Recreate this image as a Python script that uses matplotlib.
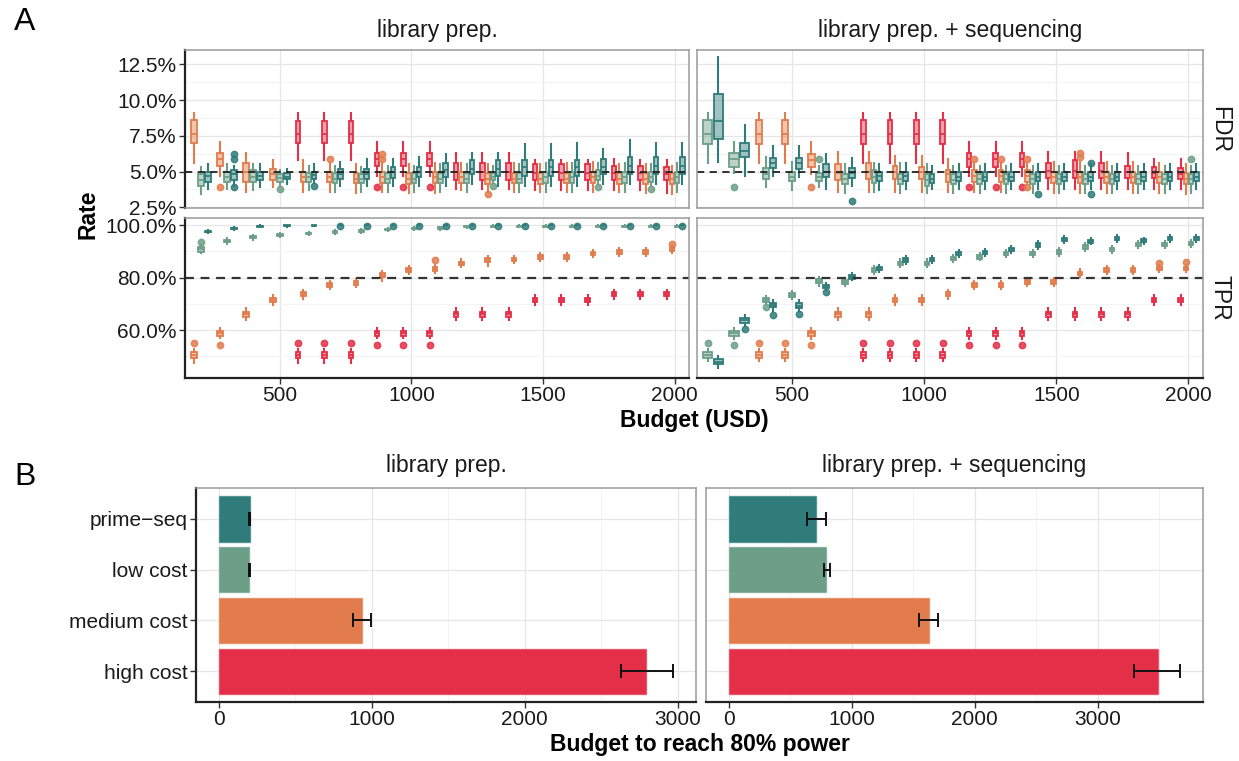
import matplotlib
matplotlib.use("Agg")
import matplotlib.pyplot as plt
from matplotlib.colors import to_rgba
from matplotlib.ticker import FixedLocator, FuncFormatter

plt.rcParams["font.family"] = ["Liberation Sans", "DejaVu Sans"]

W, H = 1239, 761

METHODS = ["high cost", "medium cost", "low cost", "prime-seq"]
COLORS = {"high cost": "#E42F48", "medium cost": "#E27C4D",
          "low cost": "#6D9F88", "prime-seq": "#2F7C7A"}

# ---- Panel A: boxplot summaries (budget, whisker low, q1, median, q3, whisker high, outliers) ----
# library prep., FDR (%)
LP_FDR_HIGH = [
    (600, 5.8, 7.0, 7.6, 8.5, 9.1, []), (700, 5.8, 7.0, 7.6, 8.5, 9.1, []),
    (800, 5.8, 7.0, 7.6, 8.5, 9.1, []), (900, 4.7, 5.4, 5.9, 6.3, 7.1, [3.9]),
    (1000, 4.7, 5.4, 5.9, 6.3, 7.1, [3.9]), (1100, 4.7, 5.4, 5.9, 6.3, 7.1, [3.9]),
    (1200, 3.8, 4.4, 5.0, 5.6, 6.3, []), (1300, 3.8, 4.4, 5.0, 5.6, 6.3, []),
    (1400, 3.8, 4.4, 5.0, 5.6, 6.3, []), (1500, 3.7, 4.4, 4.9, 5.5, 5.8, []),
    (1600, 3.7, 4.4, 4.9, 5.5, 5.8, []), (1700, 3.7, 4.4, 4.9, 5.5, 5.8, []),
    (1800, 3.7, 4.4, 4.9, 5.4, 5.9, []), (1900, 3.7, 4.4, 4.9, 5.4, 5.8, []),
    (2000, 3.5, 4.4, 4.8, 5.3, 5.8, []),
]
LP_FDR_MED = [
    (200, 5.6, 7.0, 7.6, 8.6, 9.1, []), (300, 4.7, 5.4, 5.9, 6.3, 7.1, [3.9]),
    (400, 3.6, 4.3, 5.0, 5.6, 6.3, []), (500, 3.9, 4.4, 4.8, 5.2, 5.8, []),
    (600, 3.6, 4.3, 4.6, 5.0, 5.8, []), (700, 3.6, 4.3, 4.6, 5.0, 5.6, [5.9]),
    (800, 3.5, 4.2, 4.5, 4.9, 5.5, []), (900, 3.6, 4.2, 4.6, 5.0, 5.6, [6.2, 5.9]),
    (1000, 3.5, 4.1, 4.5, 4.9, 5.5, []), (1100, 3.5, 4.2, 4.6, 5.0, 5.6, []),
    (1200, 3.7, 4.2, 4.6, 5.0, 5.6, []), (1300, 3.6, 4.1, 4.5, 4.9, 5.5, [3.45]),
    (1400, 3.6, 4.2, 4.5, 4.9, 5.6, []), (1500, 3.6, 4.1, 4.5, 4.9, 5.5, []),
    (1600, 3.6, 4.2, 4.5, 4.9, 5.6, []), (1700, 3.6, 4.2, 4.6, 5.0, 5.7, []),
    (1800, 3.6, 4.1, 4.5, 4.9, 5.5, []), (1900, 3.5, 4.1, 4.5, 4.9, 5.5, []),
    (2000, 3.4, 4.1, 4.5, 4.9, 5.4, []),
]
LP_FDR_LOW = [
    (200, 3.4, 4.0, 4.4, 4.8, 5.3, []), (300, 3.8, 4.3, 4.65, 5.0, 5.5, []),
    (400, 3.7, 4.3, 4.65, 5.1, 5.5, []), (500, 4.0, 4.3, 4.55, 4.8, 5.1, [3.75]),
    (600, 3.7, 4.3, 4.6, 4.9, 5.4, []), (700, 3.6, 4.2, 4.5, 4.9, 5.4, []),
    (800, 3.6, 4.2, 4.5, 4.8, 5.3, []), (900, 3.6, 4.2, 4.5, 4.9, 5.4, []),
    (1000, 3.6, 4.2, 4.5, 4.9, 5.4, []), (1100, 3.6, 4.2, 4.5, 4.9, 5.5, []),
    (1200, 3.6, 4.2, 4.5, 4.9, 5.5, []), (1300, 4.2, 4.4, 4.6, 4.9, 5.4, [4.0]),
    (1400, 3.6, 4.2, 4.5, 4.9, 5.5, []), (1500, 3.6, 4.2, 4.6, 5.0, 5.6, []),
    (1600, 3.6, 4.2, 4.6, 5.0, 5.6, []), (1700, 4.1, 4.4, 4.7, 5.1, 5.6, [3.9]),
    (1800, 3.6, 4.2, 4.6, 5.0, 5.6, []), (1900, 4.0, 4.3, 4.6, 5.0, 5.5, [3.75]),
    (2000, 3.6, 4.2, 4.6, 5.0, 5.6, []),
]
LP_FDR_PRIME = [
    (200, 3.8, 4.3, 4.7, 5.0, 5.5, []), (300, 4.0, 4.4, 4.8, 5.1, 5.4, [6.2, 5.9, 3.9]),
    (400, 3.9, 4.4, 4.7, 5.0, 5.5, []), (500, 4.1, 4.45, 4.6, 4.9, 5.2, []),
    (600, 4.2, 4.5, 4.75, 5.0, 5.5, [3.98]), (700, 4.0, 4.45, 4.8, 5.15, 5.7, []),
    (800, 4.0, 4.5, 4.85, 5.2, 5.9, []), (900, 4.0, 4.55, 4.95, 5.35, 5.9, []),
    (1000, 4.0, 4.65, 5.0, 5.35, 6.05, []), (1100, 4.0, 4.65, 5.1, 5.6, 6.2, []),
    (1200, 4.1, 4.8, 5.2, 5.8, 6.3, []), (1300, 4.0, 4.7, 5.2, 5.8, 6.3, []),
    (1400, 4.0, 4.7, 5.3, 5.8, 6.9, []), (1500, 4.0, 4.7, 5.3, 5.8, 6.9, []),
    (1600, 4.0, 4.7, 5.3, 5.8, 7.0, []), (1700, 4.1, 4.8, 5.3, 5.9, 6.6, []),
    (1800, 4.1, 4.8, 5.4, 6.05, 7.2, []), (1900, 4.1, 4.8, 5.4, 6.05, 7.0, []),
    (2000, 4.1, 4.8, 5.4, 6.05, 7.0, []),
]

# library prep. + sequencing, FDR (%)
LPS_FDR_HIGH = [
    (800, 5.6, 6.9, 7.6, 8.6, 9.1, []), (900, 5.6, 6.9, 7.6, 8.6, 9.1, []),
    (1000, 5.6, 6.9, 7.6, 8.6, 9.1, []), (1100, 5.6, 6.9, 7.6, 8.6, 9.1, []),
    (1200, 4.7, 5.35, 5.9, 6.3, 7.1, [3.9]), (1300, 4.7, 5.35, 5.9, 6.3, 7.1, [3.9]),
    (1400, 4.7, 5.35, 5.9, 6.3, 7.1, [3.9]), (1500, 3.75, 4.55, 5.05, 5.6, 6.35, []),
    (1600, 3.75, 4.55, 5.05, 5.8, 6.35, []), (1700, 3.75, 4.55, 5.05, 5.6, 6.35, []),
    (1800, 3.75, 4.55, 5.0, 5.4, 6.3, []), (1900, 3.8, 4.55, 4.9, 5.35, 5.9, []),
    (2000, 3.8, 4.45, 4.85, 5.25, 5.9, []),
]
LPS_FDR_MED = [
    (400, 5.6, 6.9, 7.6, 8.6, 9.1, []), (500, 5.6, 6.9, 7.6, 8.6, 9.1, []),
    (600, 4.8, 5.35, 5.8, 6.25, 7.1, [3.9]), (700, 3.6, 4.4, 4.9, 5.5, 6.35, []),
    (800, 3.6, 4.45, 5.0, 5.6, 6.35, []), (900, 3.6, 4.45, 4.95, 5.4, 6.1, []),
    (1000, 3.6, 4.45, 4.95, 5.3, 6.1, []), (1100, 3.6, 4.3, 4.8, 5.1, 5.9, []),
    (1200, 3.6, 4.3, 4.7, 5.1, 5.6, [5.9]), (1300, 3.6, 4.3, 4.7, 5.1, 5.6, [5.9]),
    (1400, 4.1, 4.3, 4.7, 5.1, 5.6, [5.9, 3.95]), (1500, 3.5, 4.2, 4.6, 5.0, 5.7, []),
    (1600, 3.5, 4.2, 4.6, 5.0, 5.7, [6.3, 6.0]), (1700, 3.5, 4.2, 4.6, 5.0, 5.7, []),
    (1800, 3.5, 4.2, 4.6, 5.0, 5.7, []), (1900, 3.5, 4.2, 4.6, 5.0, 5.6, []),
    (2000, 3.4, 4.1, 4.5, 4.9, 5.5, []),
]
LPS_FDR_LOW = [
    (200, 5.6, 6.9, 7.6, 8.6, 9.1, []), (300, 4.9, 5.35, 5.85, 6.3, 7.1, [3.9]),
    (400, 3.9, 4.5, 4.85, 5.25, 6.05, []), (500, 3.7, 4.35, 4.65, 4.95, 5.7, []),
    (600, 3.9, 4.35, 4.6, 4.9, 5.4, [5.9]), (700, 3.5, 4.1, 4.45, 4.8, 5.5, []),
    (800, 3.6, 4.2, 4.6, 5.1, 5.6, []), (900, 3.5, 4.1, 4.45, 4.8, 5.6, []),
    (1000, 3.5, 4.0, 4.4, 4.8, 5.5, []), (1100, 3.5, 4.1, 4.4, 4.8, 5.4, []),
    (1200, 3.5, 4.1, 4.45, 4.8, 5.4, []), (1300, 3.5, 4.1, 4.45, 4.8, 5.4, []),
    (1400, 3.5, 4.1, 4.45, 4.8, 5.4, []), (1500, 3.5, 4.1, 4.45, 4.8, 5.4, []),
    (1600, 3.5, 4.1, 4.45, 4.8, 5.4, []), (1700, 3.5, 4.1, 4.45, 4.8, 5.4, []),
    (1800, 3.5, 4.1, 4.45, 4.8, 5.4, []), (1900, 3.5, 4.1, 4.45, 4.8, 5.4, []),
    (2000, 3.5, 4.1, 4.45, 4.8, 5.4, [5.9]),
]
LPS_FDR_PRIME = [
    (200, 5.7, 7.3, 8.5, 10.4, 13.0, []), (300, 4.7, 6.05, 6.45, 7.0, 8.25, []),
    (400, 4.7, 5.25, 5.6, 5.95, 6.8, []), (500, 4.6, 5.2, 5.6, 5.95, 6.8, []),
    (600, 3.75, 4.65, 5.0, 5.5, 6.2, []), (700, 4.0, 4.55, 4.9, 5.25, 5.95, [2.95]),
    (800, 3.7, 4.35, 4.7, 5.0, 5.5, []), (900, 3.8, 4.35, 4.7, 5.0, 5.6, []),
    (1000, 3.8, 4.2, 4.5, 4.8, 5.4, []), (1100, 3.75, 4.35, 4.65, 5.0, 5.5, []),
    (1200, 3.75, 4.35, 4.65, 5.0, 5.5, []), (1300, 3.75, 4.35, 4.65, 5.0, 5.5, []),
    (1400, 3.75, 4.35, 4.65, 5.0, 5.5, [3.4]), (1500, 3.75, 4.35, 4.65, 5.0, 5.5, []),
    (1600, 3.75, 4.35, 4.65, 5.0, 5.5, [5.6, 3.45]), (1700, 3.75, 4.35, 4.65, 5.0, 5.5, []),
    (1800, 3.75, 4.35, 4.65, 5.0, 5.5, []), (1900, 3.75, 4.35, 4.65, 5.0, 5.5, []),
    (2000, 3.75, 4.35, 4.65, 5.0, 5.5, []),
]

# library prep., TPR (%)
LP_TPR_HIGH = [
    (600, 47.4, 49.3, 50.5, 51.7, 52.8, [55.2]), (700, 47.4, 49.3, 50.5, 51.7, 52.8, [55.2]),
    (800, 47.4, 49.3, 50.5, 51.7, 52.8, [55.2]), (900, 56.8, 57.7, 58.7, 59.7, 60.6, [54.3]),
    (1000, 56.8, 57.7, 58.7, 59.7, 60.6, [54.3]), (1100, 56.8, 57.7, 58.7, 59.7, 60.6, [54.3]),
    (1200, 63.8, 64.9, 66.0, 67.0, 68.4, []), (1300, 63.8, 64.9, 66.0, 67.0, 68.4, []),
    (1400, 63.8, 64.9, 66.0, 67.0, 68.4, []), (1500, 69.6, 70.5, 71.4, 72.3, 73.3, []),
    (1600, 69.6, 70.5, 71.4, 72.3, 73.3, []), (1700, 69.6, 70.5, 71.4, 72.3, 73.3, []),
    (1800, 72.0, 72.8, 73.6, 74.4, 75.4, []), (1900, 72.0, 72.8, 73.6, 74.4, 75.4, []),
    (2000, 72.0, 72.8, 73.6, 74.4, 75.4, []),
]
LP_TPR_MED = [
    (200, 47.4, 49.3, 50.5, 51.7, 52.8, [55.2]), (300, 56.8, 57.7, 58.7, 59.7, 60.6, [54.3]),
    (400, 63.8, 64.9, 66.0, 67.0, 68.4, []), (500, 69.6, 70.5, 71.4, 72.3, 73.3, []),
    (600, 72.0, 72.8, 73.6, 74.4, 75.4, []), (700, 75.6, 76.4, 77.1, 77.8, 78.8, []),
    (800, 76.3, 77.1, 77.8, 78.5, 79.4, []), (900, 78.8, 80.2, 81.0, 81.8, 82.6, []),
    (1000, 81.4, 82.2, 82.9, 83.6, 84.4, []), (1100, 81.8, 82.6, 83.3, 84.0, 84.8, [86.5]),
    (1200, 83.9, 84.7, 85.4, 86.1, 86.9, []), (1300, 84.5, 86.0, 86.7, 87.4, 88.2, []),
    (1400, 85.4, 86.2, 86.9, 87.6, 88.4, []), (1500, 86.4, 87.2, 87.9, 88.6, 89.4, []),
    (1600, 86.4, 87.2, 87.9, 88.6, 89.4, []), (1700, 87.8, 88.5, 89.2, 89.9, 90.6, []),
    (1800, 88.4, 89.1, 89.8, 90.5, 91.2, []), (1900, 88.4, 89.1, 89.8, 90.5, 91.2, []),
    (2000, 89.4, 90.2, 90.9, 91.6, 92.0, [92.7]),
]
LP_TPR_LOW = [
    (200, 89.3, 89.9, 90.8, 91.7, 92.5, [93.4]), (300, 92.8, 93.4, 93.9, 94.4, 95.0, []),
    (400, 94.4, 94.9, 95.3, 95.7, 96.2, []), (500, 95.4, 95.9, 96.2, 96.5, 97.0, []),
    (600, 96.1, 96.5, 96.8, 97.1, 97.5, []), (700, 96.6, 97.0, 97.3, 97.6, 98.0, []),
    (800, 97.1, 97.5, 97.8, 98.1, 98.5, []), (900, 97.7, 98.0, 98.3, 98.6, 98.9, []),
    (1000, 98.1, 98.4, 98.7, 99.0, 99.3, []), (1100, 98.2, 98.5, 98.8, 99.1, 99.4, []),
    (1200, 98.9, 99.1, 99.3, 99.5, 99.7, []), (1300, 99.2, 99.4, 99.6, 99.8, 100.0, []),
    (1400, 99.2, 99.4, 99.6, 99.8, 100.0, []), (1500, 99.2, 99.4, 99.6, 99.8, 100.0, []),
    (1600, 99.2, 99.4, 99.6, 99.8, 100.0, []), (1700, 99.2, 99.4, 99.6, 99.8, 100.0, []),
    (1800, 99.2, 99.4, 99.6, 99.8, 100.0, []), (1900, 99.2, 99.4, 99.6, 99.8, 100.0, []),
    (2000, 99.2, 99.4, 99.6, 99.8, 100.0, []),
]
LP_TPR_PRIME = [
    (200, 96.9, 97.2, 97.5, 97.8, 98.1, []), (300, 98.2, 98.5, 98.7, 98.9, 99.2, []),
    (400, 99.2, 99.4, 99.6, 99.8, 100.0, []), (500, 99.3, 99.5, 99.7, 99.85, 100.0, []),
    (600, 99.5, 99.7, 99.8, 99.9, 100.0, []), (700, 100.0, 100.0, 100.0, 100.0, 100.0, [99.5]),
    (800, 100.0, 100.0, 100.0, 100.0, 100.0, [99.5]), (900, 100.0, 100.0, 100.0, 100.0, 100.0, [99.5]),
    (1000, 100.0, 100.0, 100.0, 100.0, 100.0, [99.6]), (1100, 100.0, 100.0, 100.0, 100.0, 100.0, [99.5]),
    (1200, 100.0, 100.0, 100.0, 100.0, 100.0, [99.6]), (1300, 100.0, 100.0, 100.0, 100.0, 100.0, [99.5]),
    (1400, 100.0, 100.0, 100.0, 100.0, 100.0, [99.6]), (1500, 100.0, 100.0, 100.0, 100.0, 100.0, [99.6]),
    (1600, 100.0, 100.0, 100.0, 100.0, 100.0, [99.5]), (1700, 100.0, 100.0, 100.0, 100.0, 100.0, [99.6]),
    (1800, 100.0, 100.0, 100.0, 100.0, 100.0, [99.6]), (1900, 100.0, 100.0, 100.0, 100.0, 100.0, [99.6]),
    (2000, 100.0, 100.0, 100.0, 100.0, 100.0, [99.6]),
]

# library prep. + sequencing, TPR (%)
LPS_TPR_HIGH = [
    (800, 48.3, 49.5, 50.5, 51.5, 52.8, [55.2]), (900, 48.3, 49.5, 50.5, 51.5, 52.8, [55.2]),
    (1000, 48.3, 49.5, 50.5, 51.5, 52.8, [55.2]), (1100, 48.3, 49.5, 50.5, 51.5, 52.8, [55.2]),
    (1200, 56.6, 57.8, 58.7, 59.6, 60.8, [54.3]), (1300, 56.6, 57.8, 58.7, 59.6, 60.8, [54.3]),
    (1400, 56.6, 57.8, 58.7, 59.6, 60.8, [54.3]), (1500, 63.8, 64.9, 66.0, 67.0, 68.4, []),
    (1600, 63.8, 64.9, 66.0, 67.0, 68.4, []), (1700, 63.8, 64.9, 66.0, 67.0, 68.4, []),
    (1800, 63.8, 64.9, 66.0, 67.0, 68.4, []), (1900, 69.6, 70.5, 71.4, 72.3, 73.3, []),
    (2000, 69.6, 70.5, 71.4, 72.3, 73.3, []),
]
LPS_TPR_MED = [
    (400, 48.3, 49.5, 50.5, 51.5, 52.8, [55.2]), (500, 48.3, 49.5, 50.5, 51.5, 52.8, [55.2]),
    (600, 56.6, 57.8, 58.7, 59.6, 60.8, [54.3]), (700, 63.8, 64.9, 66.0, 67.0, 68.4, []),
    (800, 63.8, 64.9, 66.0, 67.0, 68.4, []), (900, 69.6, 70.5, 71.4, 72.3, 73.3, []),
    (1000, 69.6, 70.5, 71.4, 72.3, 73.3, []), (1100, 72.0, 72.8, 73.6, 74.4, 75.4, []),
    (1200, 75.6, 76.4, 77.1, 77.8, 78.8, []), (1300, 75.6, 76.4, 77.1, 77.8, 78.8, []),
    (1400, 76.9, 77.7, 78.4, 79.1, 80.0, []), (1500, 76.9, 77.7, 78.4, 79.1, 80.0, []),
    (1600, 80.1, 80.9, 81.6, 82.3, 83.1, []), (1700, 81.4, 82.2, 82.9, 83.6, 84.4, []),
    (1800, 81.4, 82.2, 82.9, 83.6, 84.4, []), (1900, 82.0, 82.8, 83.5, 84.2, 84.9, [85.5]),
    (2000, 82.0, 82.8, 83.5, 84.2, 84.9, [86.0]),
]
LPS_TPR_LOW = [
    (200, 48.3, 49.5, 50.5, 51.5, 52.8, [55.2]), (300, 56.6, 57.8, 58.7, 59.6, 60.8, [54.3]),
    (400, 69.8, 70.6, 71.4, 72.2, 73.0, [68.9]), (500, 71.8, 72.6, 73.4, 74.2, 75.0, []),
    (600, 76.9, 77.9, 78.7, 79.4, 80.2, []), (700, 76.8, 77.6, 78.4, 79.2, 80.0, []),
    (800, 81.3, 82.1, 82.9, 83.6, 84.4, []), (900, 83.9, 84.7, 85.4, 86.1, 86.9, []),
    (1000, 83.9, 84.7, 85.4, 86.1, 86.9, []), (1100, 85.9, 86.6, 87.3, 88.0, 88.7, []),
    (1200, 86.5, 87.2, 87.9, 88.6, 89.3, []), (1300, 87.8, 88.5, 89.2, 89.9, 90.6, []),
    (1400, 87.8, 88.5, 89.2, 89.9, 90.6, []), (1500, 88.4, 89.1, 89.8, 90.5, 91.2, []),
    (1600, 90.3, 91.0, 91.7, 92.4, 93.1, []), (1700, 89.3, 90.0, 90.7, 91.4, 92.1, []),
    (1800, 91.2, 91.9, 92.6, 93.3, 94.0, []), (1900, 91.2, 91.9, 92.6, 93.3, 94.0, []),
    (2000, 91.6, 92.3, 93.0, 93.7, 94.4, []),
]
LPS_TPR_PRIME = [
    (200, 45.5, 46.9, 47.9, 48.8, 50.0, []), (300, 61.6, 62.8, 63.8, 64.7, 65.9, [60.3]),
    (400, 67.3, 68.6, 69.5, 70.3, 71.5, [65.7]), (500, 67.2, 68.4, 69.3, 70.2, 71.4, [66.0]),
    (600, 75.3, 75.9, 76.5, 77.1, 77.8, [74.6]), (700, 78.9, 79.6, 80.3, 81.0, 81.7, []),
    (800, 82.1, 82.8, 83.5, 84.2, 84.9, []), (900, 85.3, 86.0, 86.7, 87.4, 88.1, []),
    (1000, 85.5, 86.2, 86.9, 87.6, 88.3, []), (1100, 87.8, 88.5, 89.2, 89.9, 90.6, []),
    (1200, 88.1, 88.8, 89.5, 90.2, 90.9, []), (1300, 89.3, 90.0, 90.7, 91.4, 92.1, []),
    (1400, 91.0, 91.7, 92.4, 93.1, 93.8, []), (1500, 93.3, 93.9, 94.5, 95.1, 95.7, []),
    (1600, 92.7, 93.3, 93.9, 94.5, 95.1, []), (1700, 93.7, 94.3, 94.9, 95.5, 96.1, []),
    (1800, 92.8, 93.4, 94.0, 94.6, 95.2, []), (1900, 93.7, 94.3, 94.9, 95.5, 96.1, []),
    (2000, 93.7, 94.3, 94.9, 95.5, 96.1, []),
]

FDR_TARGET = 5.0
TPR_TARGET = 80.0

# ---- Panel B: budget needed to reach 80% power ----
BAR_LABELS = ["prime\u2212seq", "low cost", "medium cost", "high cost"]
BAR_METHODS = ["prime-seq", "low cost", "medium cost", "high cost"]
LP_BUDGET = [204, 200, 934, 2795]
LP_LOW = [198, 196, 875, 2626]
LP_HIGH = [207, 204, 998, 2970]
LPS_BUDGET = [714, 793, 1624, 3486]
LPS_LOW = [637, 771, 1550, 3297]
LPS_HIGH = [793, 822, 1701, 3670]

FACETS = ["library prep.", "library prep. + sequencing"]

DODGE = 80.0
INK = "#1a1a1a"
GRID_MAJ = "#E6E6E6"
GRID_MIN = "#F3F3F3"


def px_axes(fig, x0, y0, x1, y1):
    return fig.add_axes([x0 / W, 1 - y1 / H, (x1 - x0) / W, (y1 - y0) / H])


def style_axes(ax, left_dark, bottom_dark):
    for side, sp in ax.spines.items():
        dark = (side == "left" and left_dark) or (side == "bottom" and bottom_dark)
        sp.set_color("#222222" if dark else "#9a9a9a")
        sp.set_linewidth(1.6 if dark else 1.1)
        sp.set_zorder(6)
    ax.tick_params(axis="both", which="major", labelsize=15, length=4,
                   width=1.0, color="#333333", labelcolor=INK, pad=2)
    ax.tick_params(axis="both", which="minor", length=0)
    ax.set_axisbelow(True)


def draw_boxes(ax, series):
    present = {}
    for m, rows in series:
        for r in rows:
            present.setdefault(r[0], []).append(m)
    for m, rows in series:
        c = COLORS[m]
        stats, pos, widths = [], [], []
        for b, lo, q1, med, q3, hi, fl in rows:
            grp = [x for x in METHODS if x in present[b]]
            n = len(grp)
            slot = DODGE / n
            i = grp.index(m)
            pos.append(b + (i - (n - 1) / 2) * slot)
            widths.append(slot * 0.86)
            stats.append(dict(whislo=lo, q1=q1, med=med, q3=q3, whishi=hi, fliers=fl))
        ax.bxp(stats, positions=pos, widths=widths, patch_artist=True,
               showcaps=False, manage_ticks=False,
               boxprops=dict(facecolor=to_rgba(c, 0.45), edgecolor=c, linewidth=1.3),
               medianprops=dict(color=c, linewidth=1.3),
               whiskerprops=dict(color=c, linewidth=1.5),
               flierprops=dict(marker="o", markerfacecolor=c, markeredgecolor=c,
                               markersize=4.6, alpha=0.85))


fig = plt.figure(figsize=(W / 100, H / 100), dpi=100)

panel_x = [(185, 689), (697, 1203)]
fdr_y = (50, 208)
tpr_y = (218, 378)

fdr_sets = [
    [("high cost", LP_FDR_HIGH), ("medium cost", LP_FDR_MED), ("low cost", LP_FDR_LOW), ("prime-seq", LP_FDR_PRIME)],
    [("high cost", LPS_FDR_HIGH), ("medium cost", LPS_FDR_MED), ("low cost", LPS_FDR_LOW), ("prime-seq", LPS_FDR_PRIME)],
]
tpr_sets = [
    [("high cost", LP_TPR_HIGH), ("medium cost", LP_TPR_MED), ("low cost", LP_TPR_LOW), ("prime-seq", LP_TPR_PRIME)],
    [("high cost", LPS_TPR_HIGH), ("medium cost", LPS_TPR_MED), ("low cost", LPS_TPR_LOW), ("prime-seq", LPS_TPR_PRIME)],
]

pct1 = FuncFormatter(lambda v, p: f"{v:.1f}%")
x_major = [500, 1000, 1500, 2000]

for col in range(2):
    x0, x1 = panel_x[col]
    # FDR row
    ax = px_axes(fig, x0, fdr_y[0], x1, fdr_y[1])
    ax.set_xlim(140, 2055)
    ax.set_ylim(2.45, 13.5)
    ax.xaxis.set_major_locator(FixedLocator(x_major))
    ax.yaxis.set_major_locator(FixedLocator([2.5, 5.0, 7.5, 10.0, 12.5]))
    ax.yaxis.set_minor_locator(FixedLocator([3.75, 6.25, 8.75, 11.25]))
    ax.grid(True, which="major", color=GRID_MAJ, linewidth=0.9)
    ax.grid(True, which="minor", axis="y", color=GRID_MIN, linewidth=0.7)
    ax.yaxis.set_major_formatter(pct1)
    draw_boxes(ax, fdr_sets[col])
    ax.axhline(FDR_TARGET, color="#222222", linestyle=(0, (4, 3)), linewidth=1.3, zorder=5)
    style_axes(ax, left_dark=(col == 0), bottom_dark=False)
    ax.tick_params(axis="x", length=0, labelbottom=False)
    if col == 1:
        ax.tick_params(axis="y", length=0, labelleft=False)

    # TPR row
    ax = px_axes(fig, x0, tpr_y[0], x1, tpr_y[1])
    ax.set_xlim(140, 2055)
    ax.set_ylim(41.7, 102.7)
    ax.xaxis.set_major_locator(FixedLocator(x_major))
    ax.yaxis.set_major_locator(FixedLocator([60, 80, 100]))
    ax.yaxis.set_minor_locator(FixedLocator([50, 70, 90]))
    ax.grid(True, which="major", color=GRID_MAJ, linewidth=0.9)
    ax.grid(True, which="minor", axis="y", color=GRID_MIN, linewidth=0.7)
    ax.yaxis.set_major_formatter(pct1)
    draw_boxes(ax, tpr_sets[col])
    ax.axhline(TPR_TARGET, color="#333333", linestyle=(0, (4, 3)), linewidth=1.6, zorder=5)
    style_axes(ax, left_dark=(col == 0), bottom_dark=True)
    if col == 1:
        ax.tick_params(axis="y", length=0, labelleft=False)

    fig.text((x0 + x1) / 2 / W, 1 - 30 / H, FACETS[col], ha="center", va="center",
             fontsize=16.5, color=INK)

fig.text(1220 / W, 1 - 129 / H, "FDR", rotation=270, ha="center", va="center", fontsize=16.5, color=INK)
fig.text(1220 / W, 1 - 298 / H, "TPR", rotation=270, ha="center", va="center", fontsize=16.5, color=INK)
fig.text(88 / W, 1 - 214 / H, "Rate", rotation=90, ha="center", va="center",
         fontsize=16.5, fontweight="bold", color="black")
fig.text(694 / W, 1 - 420 / H, "Budget (USD)", ha="center", va="center",
         fontsize=16.5, fontweight="bold", color="black")
fig.text(25 / W, 1 - 22 / H, "A", ha="center", va="center", fontsize=23, color="black")
fig.text(25 / W, 1 - 477 / H, "B", ha="center", va="center", fontsize=23, color="black")

# ---- Panel B bars ----
bar_panels = [((196, 696), LP_BUDGET, LP_LOW, LP_HIGH, (-148.5, 3118.5)),
              ((706, 1203), LPS_BUDGET, LPS_LOW, LPS_HIGH, (-183.5, 3853.5))]
ypos = [4, 3, 2, 1]
for col, ((x0, x1), vals, lows, highs, xl) in enumerate(bar_panels):
    ax = px_axes(fig, x0, 488, x1, 702)
    ax.set_xlim(*xl)
    ax.set_ylim(0.4, 4.6)
    ax.xaxis.set_major_locator(FixedLocator([0, 1000, 2000, 3000]))
    ax.xaxis.set_minor_locator(FixedLocator([500, 1500, 2500, 3500]))
    ax.set_yticks(ypos)
    ax.grid(True, which="major", color=GRID_MAJ, linewidth=0.9)
    ax.grid(True, which="minor", axis="x", color=GRID_MIN, linewidth=0.7)
    ax.barh(ypos, vals, height=0.9, color=[COLORS[m] for m in BAR_METHODS],
            edgecolor=[to_rgba(COLORS[m], 0.6) for m in BAR_METHODS], linewidth=1.0, zorder=2)
    xerr = [[v - lo for v, lo in zip(vals, lows)], [hi - v for v, hi in zip(vals, highs)]]
    ax.errorbar(vals, ypos, xerr=xerr, fmt="none", ecolor="#111111", elinewidth=1.4,
                capsize=5, capthick=1.4, zorder=3)
    style_axes(ax, left_dark=(col == 0), bottom_dark=True)
    if col == 0:
        ax.set_yticklabels(BAR_LABELS)
    else:
        ax.tick_params(axis="y", length=0, labelleft=False)
    fig.text((x0 + x1) / 2 / W, 1 - 466 / H, FACETS[col], ha="center", va="center",
             fontsize=16.5, color=INK)

fig.text(700 / W, 1 - 745 / H, "Budget to reach 80% power", ha="center", va="center",
         fontsize=16.5, fontweight="bold", color="black")

fig.savefig("out.png", dpi=100)
